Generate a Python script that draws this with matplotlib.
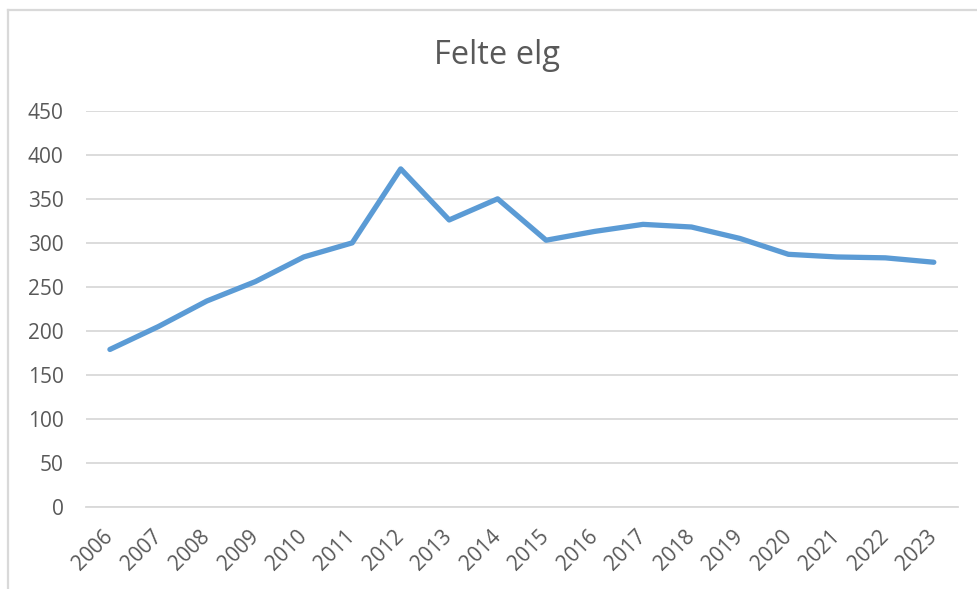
import matplotlib
matplotlib.use('Agg')
import matplotlib.pyplot as plt
from matplotlib.lines import Line2D

plt.rcParams['font.family'] = ['Open Sans', 'DejaVu Sans']

years = ['2006', '2007', '2008', '2009', '2010', '2011', '2012', '2013', '2014',
         '2015', '2016', '2017', '2018', '2019', '2020', '2021', '2022', '2023']
felte = [179, 205, 234, 256, 284, 300, 384, 326, 350,
         303, 313, 321, 318, 305, 287, 284, 283, 278]
yticks = [0, 50, 100, 150, 200, 250, 300, 350, 400, 450]

fig = plt.figure(figsize=(9.77, 5.89), dpi=100)
# outer chart border (only top and left visible in the crop)
fig.lines.append(Line2D([0.0085, 1.0], [0.983, 0.983], transform=fig.transFigure,
                        color='#d9d9d9', linewidth=1.6))
fig.lines.append(Line2D([0.0085, 0.0085], [0.0, 0.983], transform=fig.transFigure,
                        color='#d9d9d9', linewidth=1.6))

ax = fig.add_axes([0.0877, 0.139, 0.8929, 0.673])
x = list(range(len(years)))
ax.plot(x, felte, color='#5b9bd5', linewidth=3.8, solid_capstyle='round',
        solid_joinstyle='round', zorder=3)

ax.set_xlim(-0.5, len(years) - 0.5)
ax.set_ylim(0, 450)
ax.set_yticks(yticks)
ax.set_xticks(x)
ax.set_xticklabels(years, rotation=45, ha='right', va='center', rotation_mode='anchor')
ax.grid(axis='y', color='#d9d9d9', linewidth=1.3)
ax.set_axisbelow(True)
for s in ax.spines.values():
    s.set_visible(False)
ax.spines['bottom'].set_visible(True)
ax.spines['bottom'].set_color('#d9d9d9')
ax.spines['bottom'].set_linewidth(1.3)
ax.tick_params(axis='both', length=0, colors='#595959', labelsize=15)
ax.tick_params(axis='y', pad=16)
ax.tick_params(axis='x', pad=19)

fig.text(0.509, 0.905, 'Felte elg', ha='center', va='center', fontsize=23.5, color='#595959')

fig.savefig('out.png', dpi=100)
